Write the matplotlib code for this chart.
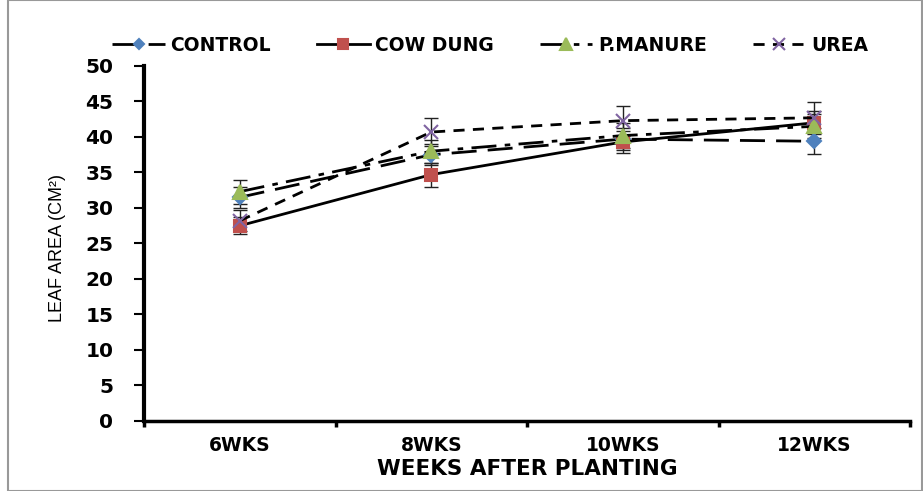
import matplotlib.pyplot as plt
from matplotlib.patches import Rectangle
from matplotlib.font_manager import FontProperties

# data
weeks = ['6WKS', '8WKS', '10WKS', '12WKS']
control = [31.5, 37.5, 39.7, 39.4]
cow_dung = [27.5, 34.7, 39.3, 42.0]
p_manure = [32.3, 38.0, 40.2, 41.5]
urea = [28.2, 40.7, 42.3, 42.7]
control_err = [1.5, 1.5, 1.6, 1.8]
cow_dung_err = [1.2, 1.7, 1.5, 1.6]
p_manure_err = [1.7, 1.6, 1.7, 1.7]
urea_err = [1.5, 2.0, 2.1, 2.2]

plt.rcParams['font.family'] = ['DejaVu Sans']

fig = plt.figure(figsize=(9.23, 4.91), dpi=100)
ax = fig.add_axes([0.156, 0.1426, 0.830, 0.723])

x = [i + 0.5 for i in range(len(weeks))]

series = [
    ('CONTROL', control, control_err, (0, (9, 4)), 'D', '#4F81BD', 7),
    ('COW DUNG', cow_dung, cow_dung_err, '-', 's', '#C0504D', 9),
    ('P.MANURE', p_manure, p_manure_err, (0, (9, 3, 2, 3)), '^', '#9BBB59', 10),
    ('UREA', urea, urea_err, (0, (4, 3)), 'x', '#8064A2', 10),
]

for name, vals, err, ls, mk, col, ms in series:
    ax.errorbar(x, vals, yerr=err, fmt='none', ecolor='#222222',
                elinewidth=1.0, capsize=5, capthick=1.0, zorder=2)
    ax.plot(x, vals, color='black', linestyle=ls, linewidth=2.0,
            marker=mk, markersize=ms, markerfacecolor=col,
            markeredgecolor=col, markeredgewidth=1.5, label=name, zorder=3)

ax.set_xlim(0, 4)
ax.set_ylim(0, 50)
ax.set_yticks(range(0, 51, 5))
ax.set_xticks([0, 1, 2, 3, 4])
ax.set_xticklabels([])
ax.set_xticks(x, minor=True)
ax.set_xticklabels(weeks, minor=True, fontsize=13.5, fontweight='bold')
ax.tick_params(axis='x', which='minor', length=0, pad=11)
ax.tick_params(axis='x', which='major', length=4, width=2.5, direction='out')
ax.tick_params(axis='y', length=7, width=1.5, labelsize=14.5, pad=15)
for lab in ax.get_yticklabels():
    lab.set_fontweight('bold')

for s in ['top', 'right']:
    ax.spines[s].set_visible(False)
ax.spines['left'].set_linewidth(3)
ax.spines['bottom'].set_linewidth(2.5)

ax.set_xlabel('WEEKS AFTER PLANTING', fontsize=15.5, fontweight='bold', labelpad=3)
ax.set_ylabel('LEAF AREA (CM\u00b2)',
              fontproperties=FontProperties(family='Liberation Sans', size=13))
ax.yaxis.set_label_coords(66 / 923, 0.5, transform=fig.transFigure)
ax.yaxis.label.set_y(0.4955)

fig.legend(loc='center', bbox_to_anchor=(0.531, 0.908), ncol=4, frameon=False,
           prop={'weight': 'bold', 'size': 13.5}, handlelength=2.8, markerscale=0.8,
           columnspacing=2.45, handletextpad=0.3)

# outer border like the original screenshot
fig.patches.append(Rectangle((0.009, 0.0), 0.99, 1.0, transform=fig.transFigure,
                             fill=False, edgecolor='#999999', linewidth=1.5))

fig.savefig('out.png', dpi=100)
